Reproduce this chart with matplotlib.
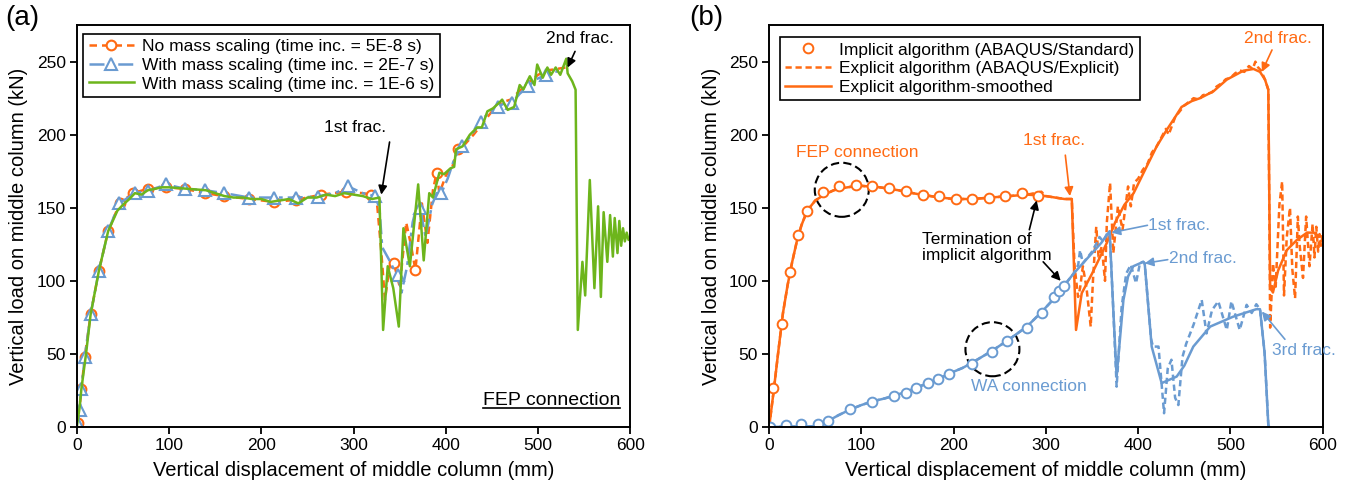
import matplotlib
matplotlib.use("Agg")
import matplotlib.pyplot as plt
import matplotlib.patches as patches
from matplotlib.lines import Line2D

plt.rcParams['font.family'] = ['Liberation Sans', 'DejaVu Sans']

ORANGE = '#FF6A13'
BLUE = '#6A9BD1'
GREEN = '#6DB51C'

# ---------------- panel (a) data ----------------
a_orange_x = [0, 1.4, 5, 8.7, 15, 24, 34, 46.5, 60.7, 77, 97, 117, 139, 160, 187, 214, 238, 265, 292, 310,
              319, 325, 330, 334, 339, 343.5, 350, 357, 362, 367, 374, 380, 386, 390, 393, 400, 407, 413,
              420, 430, 440, 450, 460, 470, 480, 490, 500, 510, 520, 530]
a_orange_y = [0, 2.7, 26, 48, 77, 107, 134, 153, 160, 163, 164, 163, 160, 158, 156, 154, 155.5, 159, 161, 160,
              159, 156, 120, 87, 110, 112.5, 96, 140, 125, 107.5, 153, 126, 162, 174, 160, 172, 178, 190,
              193, 200, 208, 216, 222, 224, 230, 236, 241, 244, 245, 246]
a_orange_mx = [1.4, 5, 8.7, 15, 24, 34, 46.5, 60.7, 77, 97, 117, 139, 160, 187, 214, 238, 265, 292, 319,
               343.5, 367, 390, 413]
a_orange_my = [2.7, 26, 48, 77, 107, 134, 153, 160, 163, 164, 163, 160, 158, 156, 154, 155.5, 159, 161, 159,
               112.5, 107.5, 174, 190]

a_blue_x = [0, 1, 3.2, 5, 8.7, 15, 24, 34, 46, 63, 77, 97, 117, 139, 160, 187, 214, 238, 261, 280, 294, 310,
            323, 328, 331, 338, 346, 348, 352, 358, 364, 368, 372, 378, 385, 390, 395, 402, 410, 418, 428,
            438, 446, 456, 465, 472, 480, 489, 498, 509, 518, 528]
a_blue_y = [0, 2, 11.6, 26, 48, 77, 107, 134, 153, 160, 161.5, 166, 163, 162, 160, 157, 157, 157, 157.7, 160,
            164.6, 160, 158, 150, 123, 115, 105, 104, 92, 110, 140, 150, 150, 130, 152, 160, 160, 170, 185,
            192, 200, 209, 215, 219, 222, 222, 228, 233, 238, 241, 243, 244]
a_blue_mx = [1, 3.2, 5, 8.7, 15, 24, 34, 46, 63, 77, 97, 117, 139, 160, 187, 214, 238, 261, 294, 323, 348,
             372, 395, 418, 438, 456, 472, 489, 509]
a_blue_my = [2, 11.6, 26, 48, 77, 107, 134, 153, 160, 161.5, 166, 163, 162, 160, 157, 157, 157, 157.7, 164.6,
             158, 104, 150, 160, 192, 209, 219, 222, 233, 241]

a_green_x = [0, 3, 5, 10, 15, 24, 34, 44, 50, 57, 63, 70, 77, 85, 92, 100, 110, 120, 130, 140, 150, 160,
             170, 180, 190, 200, 210, 220, 230, 240, 250, 260, 270, 280, 290, 300, 310, 320, 328, 332, 337,
             343, 349, 354, 361, 370, 376, 382, 386, 393, 398, 405, 409, 411, 418, 426, 434, 439, 445, 451,
             458, 461, 467, 474, 480, 484, 491, 496, 499, 505, 510, 514, 519, 524, 530.5, 532, 537, 540.6,
             543, 548, 551, 556, 561, 565, 568, 571, 575, 578, 581, 583, 586, 588, 590, 592, 594, 596, 598, 600]
a_green_y = [0, 13, 26, 50, 77, 107, 134, 148, 152, 156, 160, 159, 162, 163, 164, 164, 163.5, 163, 162.5,
             162, 160, 158, 157, 157, 156, 156, 154, 155, 156, 153, 157, 157, 159, 158, 160, 159, 158, 156,
             157, 66.4, 110, 95, 68.7, 136, 110, 166, 114, 160, 157, 174, 173, 177, 178, 190, 192, 200, 205,
             205, 216, 218, 222, 224, 217, 219, 234, 231, 240, 234, 248, 239, 246, 241, 246, 241, 252, 242,
             236.5, 230.8, 66.4, 113, 90, 169, 95, 151, 89, 147, 113, 145, 116.6, 143, 119, 141, 124, 136,
             127, 133, 128, 130]

# ---------------- panel (b) data ----------------
fep_imp_x = [4.7, 13.8, 22.8, 31.7, 40.8, 58, 76, 94, 112, 130, 148, 166.5, 184.6, 202.6, 220, 238, 256,
             274, 291.8]
fep_imp_y = [26.5, 70.5, 106, 131.5, 147.5, 160.5, 164.6, 165.7, 165, 163.5, 161.6, 159, 158, 156, 156, 157,
             158, 160, 158]

fep_exp_x = [0, 2, 5, 10, 15, 20, 25, 30, 35, 40, 45, 50, 60, 70, 80, 90, 100, 120, 140, 160, 180, 200,
             220, 240, 260, 280, 295, 300, 310, 320, 328, 331, 334.8, 337, 340, 344, 348.5, 351, 354.5, 357,
             360.5, 364, 366, 369.5, 373, 378, 383, 389, 392, 395.5, 400, 405, 410, 415, 420, 430, 433, 440,
             445, 450, 460, 466, 470, 480, 485, 490, 495, 500, 505, 510, 515, 520, 524, 527, 530, 533, 537.4,
             541, 542, 543, 546, 549, 553, 556, 558, 561, 564.5, 567, 570, 573, 575, 578.6, 582, 585.6, 589,
             591, 593, 595, 596.5, 598, 600]
fep_exp_y = [0, 10, 25, 52, 78, 97, 113, 127, 138, 146, 151, 155, 159, 162, 163.5, 164.5, 165, 164, 162,
             159.5, 157.5, 156, 156, 157, 158, 159, 161, 158, 157, 156, 156, 110, 89, 95, 110, 95, 68.7,
             100.7, 137, 116.6, 123.5, 100, 140, 167, 119, 151, 135, 164.6, 151, 167, 170, 176, 180, 188, 192,
             204, 200, 212, 216, 220, 225, 224, 227, 229, 233, 235, 238, 239, 242, 244, 243, 247, 245, 250,
             246, 244, 237.7, 230.8, 155, 68, 112, 96, 152, 168, 90, 130, 150, 108, 88, 144, 124, 102,
             144, 110, 139, 116, 137, 120, 132, 124, 132]

fep_smooth_x = [0, 2, 5, 10, 15, 20, 25, 30, 35, 40, 45, 50, 60, 70, 80, 90, 100, 120, 140, 160, 180, 200,
                220, 240, 260, 280, 300, 310, 320, 328, 332.6, 338.8, 350, 366, 375, 385, 395, 409, 420, 431,
                440, 447, 458, 467, 481.5, 496, 514, 525, 532, 537.4, 541, 543, 546, 551.6, 561, 572, 583,
                590, 595, 600]
fep_smooth_y = [0, 10, 25, 52, 78, 97, 113, 127, 138, 146, 151, 155, 159, 162, 163.5, 164.5, 165, 164, 162,
                159.5, 157.5, 156, 156, 157, 158, 159, 158, 157, 156, 156, 66.4, 91.6, 105, 126, 140, 152,
                160, 178, 192, 203.4, 212, 219, 223, 225, 229.7, 237.7, 243.8, 245, 243, 237.7, 230.8, 96,
                92, 107, 121, 128, 133, 133, 131, 130]

wa_imp_x = [1, 18.4, 35, 52.7, 64, 87.8, 112, 135.8, 148, 159, 172.6, 183.4, 195, 219.6, 241, 258, 279,
            295.5, 309, 314.5, 319.6]
wa_imp_y = [0, 1.4, 2, 2, 4.3, 12, 17.4, 21.2, 23.5, 26.5, 30, 33, 36, 43, 51.6, 59, 68, 78, 89, 93, 96.8]

wa_exp_x = [0, 50, 58, 65, 75, 88, 100, 112, 125, 136, 148, 160, 172, 184, 195, 210, 220, 240, 258, 279,
            295, 309, 320, 330, 335, 337, 340, 350, 355, 358, 362, 366, 369, 373, 376.6, 382, 387, 392,
            397.6, 402, 405.5, 407, 414, 416, 422, 428, 432, 436, 440, 443.5, 448, 452, 460, 468.8, 474,
            480, 486.8, 496, 501, 510, 517.5, 523, 528, 532, 537, 541, 542]
wa_exp_y = [0, 0.5, 1.5, 4.5, 8, 12, 15, 17.5, 19.5, 21.5, 24, 27, 30, 33, 36.5, 40.5, 44, 51.5, 59, 68.5,
            78.5, 88, 97, 105, 111, 121, 112, 120, 126, 130, 127, 132, 134, 80, 27.6, 82, 105, 111, 98.4,
            112.5, 113, 112, 60, 55, 55, 9.4, 40, 46, 20, 15, 48, 57, 70, 87, 64, 80, 86, 66.4, 86, 66.4,
            83.6, 78, 84, 80.6, 50.5, 1.4, 0]

wa_smooth_x = [0, 50, 58, 65, 75, 88, 100, 112, 125, 136, 148, 160, 172, 184, 195, 210, 220, 240, 258, 279,
               295, 309, 320, 330, 340, 350, 360, 369, 373, 376.6, 384, 389, 394.7, 405.5, 407, 414.6, 425.4,
               441.7, 450, 459.7, 478, 503, 528, 532, 537, 541, 542]
wa_smooth_y = [0, 0.5, 1.5, 4.5, 8, 12, 15, 17.5, 19.5, 21.5, 24, 27, 30, 33, 36.5, 40.5, 44, 51.5, 59, 68.5,
               78.5, 88, 97, 105, 112, 119, 126, 134, 80, 34.5, 87, 103, 110, 113, 112, 55, 30, 34.5, 42, 55,
               68.7, 75.5, 80.6, 80.6, 50.5, 1.4, 0]

x_ticks = [0, 100, 200, 300, 400, 500, 600]
y_ticks = [0, 50, 100, 150, 200, 250]


def style_axes(ax):
    ax.set_xlim(0, 600)
    ax.set_ylim(0, 275)
    ax.set_xticks(x_ticks)
    ax.set_yticks(y_ticks)
    ax.tick_params(direction='out', length=5, width=1.3, labelsize=12.5, pad=3)
    for s in ax.spines.values():
        s.set_linewidth(1.4)
        s.set_color('black')
    ax.set_xlabel('Vertical displacement of middle column (mm)', fontsize=14.5, labelpad=6)
    ax.set_ylabel('Vertical load on middle column (kN)', fontsize=14.5, labelpad=6)


def arrow(ax, head, tail, color):
    ax.annotate('', xy=head, xytext=tail,
                arrowprops=dict(arrowstyle='-|>', color=color, lw=1.2, mutation_scale=13,
                                shrinkA=0, shrinkB=0))


fig = plt.figure(figsize=(13.47, 4.83), dpi=100)
ax1 = fig.add_axes([0.057, 0.116, 0.411, 0.832])
ax2 = fig.add_axes([0.571, 0.116, 0.411, 0.832])

# ---------------- panel (a) ----------------
ax1.plot(a_orange_x, a_orange_y, color=ORANGE, lw=1.8, ls=(0, (3, 2)))
ax1.plot(a_orange_mx, a_orange_my, ls='none', marker='o', ms=7, mfc='white', mec=ORANGE, mew=1.5)
ax1.plot(a_blue_x, a_blue_y, color=BLUE, lw=1.8, ls=(0, (6, 2, 1.5, 2)))
ax1.plot(a_blue_mx, a_blue_my, ls='none', marker='^', ms=8, mfc='white', mec=BLUE, mew=1.5)
ax1.plot(a_green_x, a_green_y, color=GREEN, lw=1.8)
style_axes(ax1)

h1 = [Line2D([], [], color=ORANGE, lw=1.8, ls=(0, (3, 2)), marker='o', ms=7, mfc='white', mec=ORANGE, mew=1.5),
      Line2D([], [], color=BLUE, lw=1.8, ls=(0, (6, 2, 1.5, 2)), marker='^', ms=8, mfc='white', mec=BLUE, mew=1.5),
      Line2D([], [], color=GREEN, lw=1.8)]
leg1 = ax1.legend(h1, ['No mass scaling (time inc. = 5E-8 s)',
                       'With mass scaling (time inc. = 2E-7 s)',
                       'With mass scaling (time inc. = 1E-6 s)'],
                  loc='upper left', bbox_to_anchor=(0.012, 0.978), fontsize=12.5, frameon=True,
                  fancybox=False, edgecolor='black', framealpha=1, handlelength=2.6,
                  labelspacing=0.2, borderpad=0.3, handletextpad=0.5, borderaxespad=0)
leg1.get_frame().set_linewidth(1.2)

ax1.text(302, 205, '1st frac.', fontsize=12.5, ha='center', va='center')
arrow(ax1, (330, 159), (339, 195), 'black')
ax1.text(545, 266, '2nd frac.', fontsize=12.5, ha='center', va='center')
arrow(ax1, (532, 246), (540, 257), 'black')
fep_txt = ax1.text(0.982, 0.055, 'FEP connection', fontsize=14, ha='right', va='baseline',
                   transform=ax1.transAxes)

# ---------------- panel (b) ----------------
ax2.plot(fep_exp_x, fep_exp_y, color=ORANGE, lw=1.8, ls=(0, (2.5, 1.5)))
ax2.plot(fep_smooth_x, fep_smooth_y, color=ORANGE, lw=1.8)
ax2.plot(fep_imp_x, fep_imp_y, ls='none', marker='o', ms=7, mfc='white', mec=ORANGE, mew=1.4)
ax2.plot(wa_exp_x, wa_exp_y, color=BLUE, lw=1.8, ls=(0, (2.5, 1.5)))
ax2.plot(wa_smooth_x, wa_smooth_y, color=BLUE, lw=1.8)
ax2.plot(wa_imp_x, wa_imp_y, ls='none', marker='o', ms=7, mfc='white', mec=BLUE, mew=1.4)
style_axes(ax2)

h2 = [Line2D([], [], ls='none', marker='o', ms=7, mfc='white', mec=ORANGE, mew=1.4),
      Line2D([], [], color=ORANGE, lw=1.8, ls=(0, (2.5, 1.5))),
      Line2D([], [], color=ORANGE, lw=1.8)]
leg2 = ax2.legend(h2, ['Implicit algorithm (ABAQUS/Standard)',
                       'Explicit algorithm (ABAQUS/Explicit)',
                       'Explicit algorithm-smoothed'],
                  loc='upper left', bbox_to_anchor=(0.02, 0.97), fontsize=12.5, frameon=True,
                  fancybox=False, edgecolor='black', framealpha=1, handlelength=2.6,
                  labelspacing=0.2, borderpad=0.3, handletextpad=0.5, borderaxespad=0)
leg2.get_frame().set_linewidth(1.2)

for c in [(78.7, 162.3), (242, 53.2)]:
    ax2.add_patch(patches.Ellipse(c, width=58.5, height=37, fill=False, ls=(0, (4, 2)),
                                  ec='black', lw=1.5))

ax2.text(95, 188, 'FEP connection', color=ORANGE, fontsize=12.5, ha='center', va='center')
ax2.text(281.7, 28, 'WA connection', color=BLUE, fontsize=12.5, ha='center', va='center')
ax2.text(166, 123, 'Termination of\nimplicit algorithm', fontsize=12.5, ha='left', va='center',
         linespacing=1.1)
arrow(ax2, (290, 155), (282, 135), 'black')
arrow(ax2, (316, 100), (297, 113), 'black')

ax2.text(309, 196, '1st frac.', color=ORANGE, fontsize=12.5, ha='center', va='center')
arrow(ax2, (326, 158), (321, 186), ORANGE)
ax2.text(551, 266, '2nd frac.', color=ORANGE, fontsize=12.5, ha='center', va='center')
arrow(ax2, (534, 243), (545, 258), ORANGE)

ax2.text(411, 138, '1st frac.', color=BLUE, fontsize=12.5, ha='left', va='center')
arrow(ax2, (371, 133), (410, 138), BLUE)
ax2.text(433, 115.4, '2nd frac.', color=BLUE, fontsize=12.5, ha='left', va='center')
arrow(ax2, (407, 112), (432, 114.5), BLUE)
ax2.text(545, 52.4, '3rd frac.', color=BLUE, fontsize=12.5, ha='left', va='center')
arrow(ax2, (534, 79), (559, 60), BLUE)

fig.text(0.004, 0.99, '(a)', fontsize=20, ha='left', va='top')
fig.text(0.512, 0.99, '(b)', fontsize=20, ha='left', va='top')

# underline for the FEP connection label in (a), just under the baseline
fig.canvas.draw()
bb = fep_txt.get_window_extent().transformed(ax1.transAxes.inverted())
ax1.plot([bb.x0, bb.x1], [0.055 - 0.008, 0.055 - 0.008], color='black', lw=1.2,
         transform=ax1.transAxes, clip_on=False)

fig.savefig('out.png', dpi=100)
